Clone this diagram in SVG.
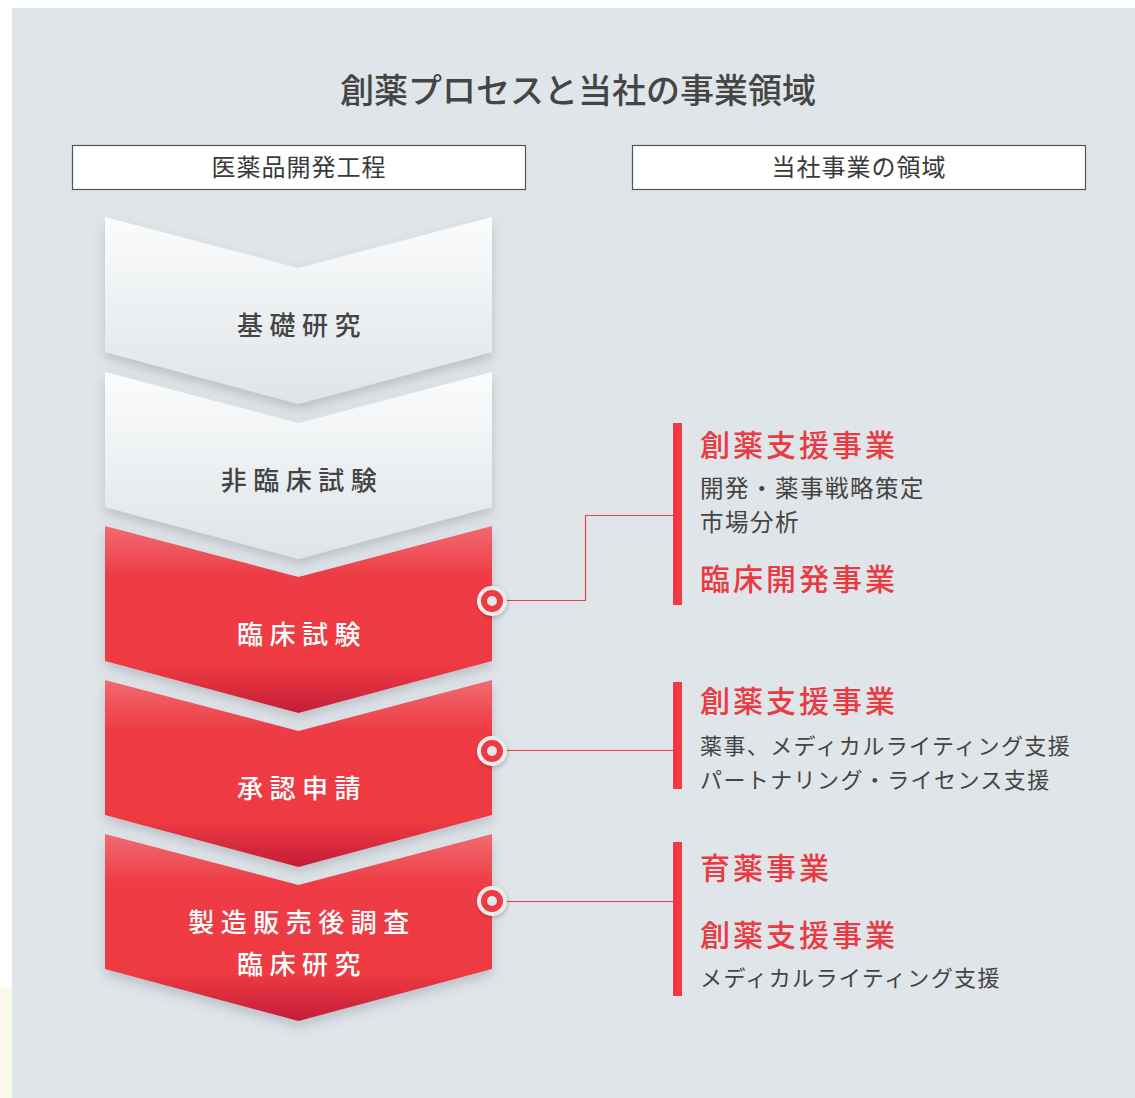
<svg xmlns="http://www.w3.org/2000/svg" width="1135" height="1098" viewBox="0 0 1135 1098">
  <style>
    text { font-family: "Noto Sans CJK JP", "Noto Sans", sans-serif; }
    .title { font-size: 34px; font-weight: 500; fill: #454545; text-anchor: middle; }
    .hdr-box { fill: #ffffff; stroke: #555555; stroke-width: 1.2; }
    .hdr { font-size: 24px; font-weight: 400; fill: #3a3a3a; text-anchor: middle; letter-spacing: 1px; }
    .step { font-size: 26px; font-weight: 500; text-anchor: middle; letter-spacing: 6.5px; }
    .step-g { fill: #454545; }
    .step-r { fill: #ffffff; }
    .biz { font-size: 30px; font-weight: 500; fill: #ea3a42; letter-spacing: 3px; }
    .sub { font-size: 22px; font-weight: 400; fill: #444444; letter-spacing: 1.4px; }
    .sub-k { font-size: 23.5px; letter-spacing: 1.5px; }
    .bar { fill: #ee3a43; }
    .conn { fill: none; stroke: #e8424a; stroke-width: 1.2; }
  </style>
  <defs>
    <linearGradient id="gGray" x1="0" y1="0" x2="0" y2="1">
      <stop offset="0" stop-color="#fbfcfc"/>
      <stop offset="0.45" stop-color="#eef1f3"/>
      <stop offset="1" stop-color="#dfe4e8"/>
    </linearGradient>
    <linearGradient id="gRed" x1="0" y1="0" x2="0" y2="1">
      <stop offset="0" stop-color="#f06b72"/>
      <stop offset="0.27" stop-color="#ee3b44"/>
      <stop offset="0.75" stop-color="#ee3a43"/>
      <stop offset="1" stop-color="#c41d38"/>
    </linearGradient>
    <filter id="shadow" x="-10%" y="-10%" width="120%" height="130%">
      <feDropShadow dx="0" dy="6" stdDeviation="6" flood-color="#5a6570" flood-opacity="0.28"/>
    </filter>
    <filter id="cshadow" x="-50%" y="-50%" width="200%" height="200%">
      <feDropShadow dx="1" dy="2" stdDeviation="2" flood-color="#000" flood-opacity="0.2"/>
    </filter>
    <path id="chev" d="M0,0 L193.5,51 L387,0 L387,135 L193.5,187 L0,135 Z"/>
    <g id="marker">
      <circle r="15" fill="#ebebec" filter="url(#cshadow)"/>
      <circle r="11" fill="#ee3a43"/>
      <circle r="5" fill="#e6e6e7"/>
    </g>
  </defs>

  <!-- background -->
  <rect x="0" y="0" width="1135" height="1098" fill="#ffffff"/>
  <rect x="0" y="988" width="12" height="110" fill="#fbf8ec"/>
  <rect x="12" y="8" width="1123" height="1090" fill="#e0e5e9"/>

  <g id="title">
    <text class="title" x="578" y="103">創薬プロセスと当社の事業領域</text>
  </g>

  <g id="header-left">
    <rect class="hdr-box" x="72.5" y="145.5" width="453" height="44"/>
    <text class="hdr" x="299" y="176">医薬品開発工程</text>
  </g>
  <g id="header-right">
    <rect class="hdr-box" x="632.5" y="145.5" width="453" height="44"/>
    <text class="hdr" x="859" y="176">当社事業の領域</text>
  </g>

  <!-- process chevrons -->
  <g id="step-basic" transform="translate(105,217)">
    <use href="#chev" fill="url(#gGray)" filter="url(#shadow)"/>
    <text class="step step-g" x="197" y="118">基礎研究</text>
  </g>
  <g id="step-nonclinical" transform="translate(105,372)">
    <use href="#chev" fill="url(#gGray)" filter="url(#shadow)"/>
    <text class="step step-g" x="197" y="118">非臨床試験</text>
  </g>
  <g id="step-clinical" transform="translate(105,526)">
    <use href="#chev" fill="url(#gRed)" filter="url(#shadow)"/>
    <text class="step step-r" x="197" y="118">臨床試験</text>
  </g>
  <g id="step-approval" transform="translate(105,680)">
    <use href="#chev" fill="url(#gRed)" filter="url(#shadow)"/>
    <text class="step step-r" x="197" y="118">承認申請</text>
  </g>
  <g id="step-postmarketing" transform="translate(105,834)">
    <use href="#chev" fill="url(#gRed)" filter="url(#shadow)"/>
    <text class="step step-r" x="197" y="98">製造販売後調査</text>
    <text class="step step-r" x="197" y="140">臨床研究</text>
  </g>

  <!-- connectors -->
  <g id="connectors">
    <polyline class="conn" points="492,600.5 585.5,600.5 585.5,515.5 673,515.5"/>
    <line class="conn" x1="492" y1="750.5" x2="673" y2="750.5"/>
    <line class="conn" x1="492" y1="901.5" x2="673" y2="901.5"/>
    <use href="#marker" x="492" y="601"/>
    <use href="#marker" x="492" y="751"/>
    <use href="#marker" x="492" y="901"/>
  </g>

  <!-- business areas -->
  <g id="biz-clinical">
    <rect class="bar" x="673" y="423" width="9" height="182"/>
    <text class="biz" x="700" y="456">創薬支援事業</text>
    <text class="sub sub-k" x="700" y="497">開発・薬事戦略策定</text>
    <text class="sub sub-k" x="700" y="531">市場分析</text>
    <text class="biz" x="700" y="590">臨床開発事業</text>
  </g>
  <g id="biz-approval">
    <rect class="bar" x="673" y="682" width="9" height="107"/>
    <text class="biz" x="700" y="712">創薬支援事業</text>
    <text class="sub" x="700" y="754" letter-spacing="1.8">薬事、メディカルライティング支援</text>
    <text class="sub" x="700" y="788">パートナリング・ライセンス支援</text>
  </g>
  <g id="biz-postmarketing">
    <rect class="bar" x="673" y="842" width="9" height="154"/>
    <text class="biz" x="700" y="879">育薬事業</text>
    <text class="biz" x="700" y="946">創薬支援事業</text>
    <text class="sub" x="700" y="986">メディカルライティング支援</text>
  </g>
</svg>
